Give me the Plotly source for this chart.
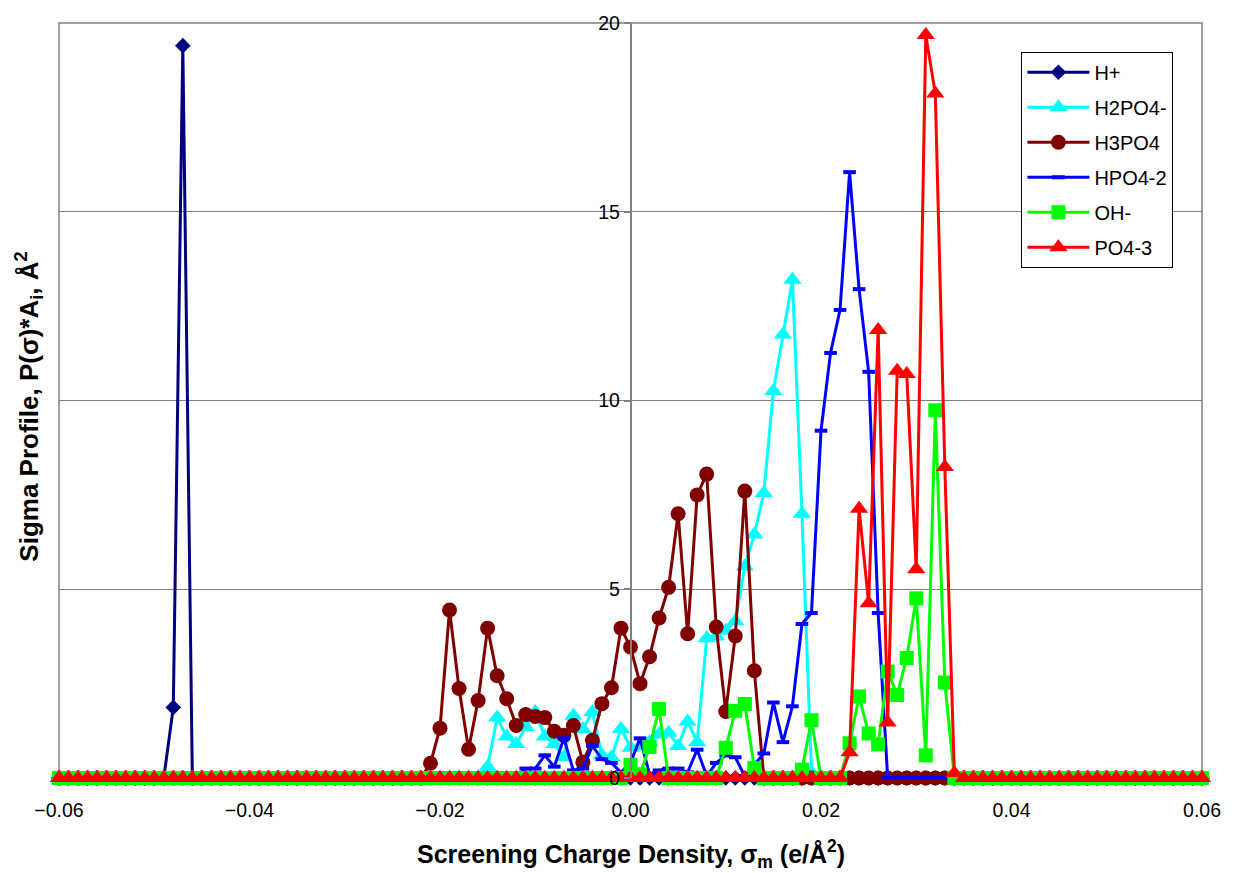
import plotly.graph_objects as go

# x grid: screening charge density from -0.060 to 0.060 in steps of 0.001
k_values = list(range(-60, 61))
sigma = [round(k / 1000, 3) for k in k_values]

# nonzero segments of each sigma profile (start index in thousandths, values)
h_plus_start = -48
h_plus_vals = [1.87, 19.4]

h2po4_start = -15
h2po4_vals = [0.3, 1.6, 1.1, 0.9, 1.35, 1.75, 1.1, 0.9, 0.55, 1.65, 1.3, 1.75,
              0.6, 0.55, 1.3, 0.8, 0.85, 0.95, 1.15, 1.2, 0.85, 1.5, 0.95, 3.7,
              3.75, 3.9, 4.15, 5.6, 6.45, 7.55, 10.25, 11.75, 13.2, 7.0, 0.15]

h3po4_start = -21
h3po4_vals = [0.39, 1.32, 4.45, 2.37, 0.76, 2.05, 3.97, 2.71, 2.1, 1.39, 1.68,
              1.63, 1.6, 1.24, 1.13, 1.39, 0.42, 1.0, 1.97, 2.39, 3.97, 3.47,
              2.5, 3.21, 4.24, 5.05, 7.0, 3.82, 7.5, 8.05, 4.0, 1.76, 3.76, 7.6, 2.84]

hpo4_start = -11
hpo4_vals = [0.25, 0.25, 0.6, 0.3, 1.05, 0.2, 0.25, 0.85, 0.5, 0.4, 0.15, 0.4,
             1.05, 0.1, 0.2, 0.25, 0.25, 0.15, 0.75, 0.05, 0.4, 0.6, 0.55, 0.05,
             0.35, 0.65, 2.0, 0.95, 1.9, 4.08, 4.37, 9.2, 11.26, 12.4, 16.05,
             12.95, 10.76, 4.37]

oh_start = 0
oh_vals = [0.35, 0.1, 0.82, 1.83, 0, 0, 0, 0, 0, 0, 0.8, 1.78, 1.96, 0.26, 0, 0,
           0, 0, 0.22, 1.53, 0, 0, 0, 0.92, 2.16, 1.18, 0.89, 2.82, 2.2, 3.18,
           4.76, 0.6, 9.74, 2.53]

po4_start = 23
po4_vals = [0.68, 7.13, 4.63, 11.87, 1.47, 10.79, 10.7, 5.53, 19.68, 18.13, 8.24, 0.13]

x_ticks = [-0.06, -0.04, -0.02, 0.0, 0.02, 0.04, 0.06]
y_ticks = [0, 5, 10, 15, 20]


def full_profile(start, vals):
    out = [0.0] * len(k_values)
    for i, v in enumerate(vals):
        out[k_values.index(start + i)] = v
    return out


series = [
    ("H+", full_profile(h_plus_start, h_plus_vals), "#000080", "diamond", 12),
    ("H2PO4-", full_profile(h2po4_start, h2po4_vals), "#00FFFF", "triangle-up", 16),
    ("H3PO4", full_profile(h3po4_start, h3po4_vals), "#800000", "circle", 15),
    ("HPO4-2", full_profile(hpo4_start, hpo4_vals), "#0000FF", "line-ew", 9),
    ("OH-", full_profile(oh_start, oh_vals), "#00FF00", "square", 14),
    ("PO4-3", full_profile(po4_start, po4_vals), "#FF0000", "triangle-up", 16),
]

FONT = "Arial, Liberation Sans, sans-serif"

fig = go.Figure()
for i, (name, ys, color, symbol, size) in enumerate(series):
    marker = dict(symbol=symbol, size=size, color=color)
    if symbol == "line-ew":
        marker["line"] = dict(color=color, width=4)
    fig.add_trace(go.Scatter(
        x=sigma, y=ys, name=name, mode="lines+markers",
        line=dict(color=color, width=3),
        marker=marker, cliponaxis=False, legendgroup=f"g{i}",
    ))

tick_font = dict(family=FONT, size=19.5, color="black")

fig.update_layout(
    width=1233, height=873, autosize=False,
    margin=dict(l=59, r=20, t=18, b=95),
    paper_bgcolor="white", plot_bgcolor="white",
    font=dict(family=FONT, size=19, color="black"),
    showlegend=True,
    legend=dict(x=0.842, y=0.962, xanchor="left", yanchor="top",
                bordercolor="black", borderwidth=1, bgcolor="white",
                font=dict(family=FONT, size=20, color="black"),
                tracegroupgap=6, itemwidth=62),
    xaxis=dict(range=[-0.06, 0.06], tickvals=x_ticks,
               tickformat=".2f", showgrid=False, zeroline=False, showline=False,
               ticks="outside", ticklen=15, tickcolor="rgba(0,0,0,0)",
               tickfont=tick_font),
    yaxis=dict(range=[0, 20], tickvals=y_ticks, anchor="free", position=0.5,
               showgrid=True, gridcolor="#808080", gridwidth=1.4, zeroline=False,
               showline=True, linecolor="#808080", linewidth=1.5,
               ticks="outside", ticklen=6, tickcolor="#808080", tickwidth=1.5,
               tickfont=tick_font),
    shapes=[dict(type="rect", xref="paper", yref="paper", x0=0, x1=1, y0=0, y1=1,
                 line=dict(color="#808080", width=1.5), layer="below")],
    annotations=[
        dict(text="<b>Screening Charge Density, σ<sub>m</sub> (e/Å<sup>2</sup>)</b>",
             xref="paper", yref="paper", x=0.5, y=-0.1, xanchor="center", yanchor="middle",
             showarrow=False, font=dict(family=FONT, size=25, color="black")),
        dict(text="<b>Sigma Profile, P(σ)*A<sub>i</sub>, Å<sup>2</sup></b>",
             xref="paper", yref="paper", x=-0.027, y=0.492, xanchor="center", yanchor="middle",
             textangle=-90, showarrow=False,
             font=dict(family=FONT, size=26, color="black")),
    ],
)

fig.write_html("out.html")
